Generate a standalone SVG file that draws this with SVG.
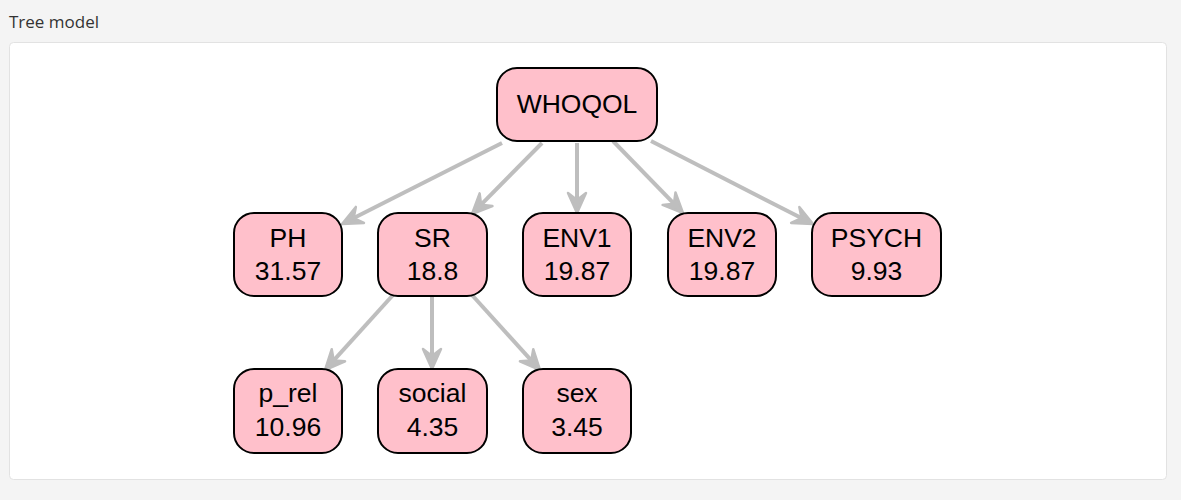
<svg xmlns="http://www.w3.org/2000/svg" width="1181" height="500" viewBox="0 0 1181 500">
  <defs>
    <style>
      .node rect { fill: #FFC0CB; stroke: #000; stroke-width: 2; }
      .node text { font-family: "Liberation Sans", Arial, sans-serif; font-size: 26.5px; fill: #000; text-anchor: middle; }
      .edge { stroke: #BEBEBE; stroke-width: 4; fill: none; marker-end: url(#vee); }
      .title { font-family: "Open Sans", "Noto Sans", sans-serif; font-size: 17px; fill: #333; }
    </style>
    <marker id="vee" markerUnits="userSpaceOnUse" viewBox="-2 -2 26 26" markerWidth="26" markerHeight="26" refX="14" refY="11" orient="auto">
      <path d="M0,2 L20,11 L0,20 L7,11 z" fill="#BEBEBE" stroke="#BEBEBE" stroke-width="2.5" stroke-linejoin="round"/>
    </marker>
  </defs>
  <rect x="0" y="0" width="1181" height="500" fill="#f4f4f4"/>
  <text class="title" x="9" y="28">Tree model</text>
  <rect x="9.5" y="42.5" width="1157" height="437" rx="4" fill="#fff" stroke="#e2e2e2"/>

  <g id="connectors">
    <line class="edge" x1="502" y1="143" x2="347.4" y2="221.3"/>
    <line class="edge" x1="542" y1="143" x2="476.2" y2="209.7"/>
    <line class="edge" x1="577" y1="143" x2="577" y2="207"/>
    <line class="edge" x1="613" y1="141" x2="678.8" y2="208.7"/>
    <line class="edge" x1="651" y1="141" x2="807.7" y2="221.3"/>
    <line class="edge" x1="393" y1="295" x2="329" y2="365.6"/>
    <line class="edge" x1="432" y1="296" x2="432" y2="363"/>
    <line class="edge" x1="472" y1="295" x2="536" y2="365.6"/>
  </g>

  <g id="WHOQOL" class="node">
    <rect x="497" y="68" width="160" height="73" rx="20"/>
    <text x="577" y="113">WHOQOL</text>
  </g>
  <g id="PH" class="node">
    <rect x="234" y="213" width="108" height="83" rx="20"/>
    <text x="288" y="247">PH</text>
    <text x="288" y="280">31.57</text>
  </g>
  <g id="SR" class="node">
    <rect x="378" y="213" width="109" height="83" rx="20"/>
    <text x="432.5" y="247">SR</text>
    <text x="432.5" y="280">18.8</text>
  </g>
  <g id="ENV1" class="node">
    <rect x="523" y="213" width="108" height="83" rx="20"/>
    <text x="577" y="247">ENV1</text>
    <text x="577" y="280">19.87</text>
  </g>
  <g id="ENV2" class="node">
    <rect x="668" y="213" width="108" height="83" rx="20"/>
    <text x="722" y="247">ENV2</text>
    <text x="722" y="280">19.87</text>
  </g>
  <g id="PSYCH" class="node">
    <rect x="812" y="213" width="129" height="83" rx="20"/>
    <text x="876.5" y="247">PSYCH</text>
    <text x="876.5" y="280">9.93</text>
  </g>
  <g id="p_rel" class="node">
    <rect x="234" y="369" width="108" height="84" rx="20"/>
    <text x="288" y="402">p_rel</text>
    <text x="288" y="436">10.96</text>
  </g>
  <g id="social" class="node">
    <rect x="378" y="369" width="109" height="84" rx="20"/>
    <text x="432.5" y="402">social</text>
    <text x="432.5" y="436">4.35</text>
  </g>
  <g id="sex" class="node">
    <rect x="523" y="369" width="108" height="84" rx="20"/>
    <text x="577" y="402">sex</text>
    <text x="577" y="436">3.45</text>
  </g>
</svg>
